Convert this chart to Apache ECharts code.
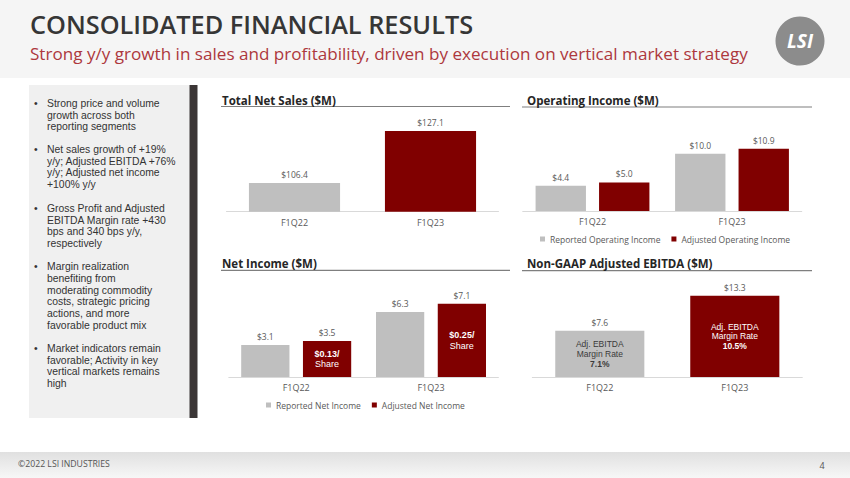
<!DOCTYPE html>
<html>
<head>
<meta charset="utf-8">
<script src="https://cdn.jsdelivr.net/npm/echarts@6/dist/echarts.min.js"></script>
<style>
html,body{margin:0;padding:0;background:#fff;}
#c{width:850px;height:478px;}
</style>
</head>
<body>
<div id="c"></div>
<script>
// ---- data ----
const categories = ['F1Q22', 'F1Q23'];
const netSales = [106.4, 127.1];
const opReported = [4.4, 10.0];
const opAdjusted = [5.0, 10.9];
const niReported = [3.1, 6.3];
const niAdjusted = [3.5, 7.1];
const niPerShare = ['$0.13/', '$0.25/'];
const ebitda = [7.6, 13.3];
const ebitdaMargin = ['7.1%', '10.5%'];
const slideTitle = 'CONSOLIDATED FINANCIAL RESULTS';
const slideSubtitle = 'Strong y/y growth in sales and profitability, driven by execution on vertical market strategy';
const chartTitles = ['Total Net Sales ($M)', 'Operating Income ($M)', 'Net Income ($M)', 'Non-GAAP Adjusted EBITDA ($M)'];
const bullets = [
  ['Strong price and volume', 'growth across both', 'reporting segments'],
  ['Net sales growth of +19%', 'y/y; Adjusted EBITDA +76%', 'y/y; Adjusted net income', '+100% y/y'],
  ['Gross Profit and Adjusted', 'EBITDA Margin rate +430', 'bps and 340 bps y/y,', 'respectively'],
  ['Margin realization', 'benefiting from', 'moderating commodity', 'costs, strategic pricing', 'actions, and more', 'favorable product mix'],
  ['Market indicators remain', 'favorable; Activity in key', 'vertical markets remains', 'high']
];
const footerText = '©2022 LSI INDUSTRIES';
const pageNumber = '4';

// ---- style ----
const FONT = '"Open Sans", "Noto Sans", sans-serif';
const TIGHT = '"Liberation Sans", Arial, sans-serif';
const GRAY = '#bfbfbf';
const RED = '#800000';
const TXT = '#595959';
const bulletTops = [97.5, 143.5, 202.5, 261, 342.5];

const chart = echarts.init(document.getElementById('c'), null, {renderer: 'svg'});

const graphics = [
  {type: 'rect', z: -10, shape: {x: 0, y: 0, width: 850, height: 78}, style: {fill: '#f5f5f5'}},
  {type: 'text', x: 30, y: 24, style: {text: slideTitle, font: '600 25.3px ' + FONT, fill: '#363636', textVerticalAlign: 'middle', verticalAlign: 'middle'}},
  {type: 'text', x: 30, y: 53.5, style: {text: slideSubtitle, font: '400 17.1px ' + FONT, fill: '#ad383d', textVerticalAlign: 'middle', verticalAlign: 'middle'}},
  {type: 'circle', shape: {cx: 800, cy: 41, r: 24.5}, style: {fill: '#8c8c8c'}},
  {type: 'text', x: 800, y: 41, style: {text: 'LSI', font: 'italic 700 19px ' + FONT, fill: '#ffffff', textAlign: 'center', align: 'center', textVerticalAlign: 'middle', verticalAlign: 'middle'}},
  {type: 'rect', z: -10, shape: {x: 29, y: 85, width: 161, height: 333}, style: {fill: '#f0f0f0'}},
  {type: 'rect', z: -10, shape: {x: 189.5, y: 85, width: 8, height: 333}, style: {fill: '#3b3636'}},
  {type: 'rect', z: -10, shape: {x: 0, y: 452, width: 850, height: 26}, style: {fill: new echarts.graphic.LinearGradient(0, 0, 0, 1, [{offset: 0, color: '#e0e0e0'}, {offset: 1, color: '#f7f7f7'}])}},
  {type: 'text', x: 18, y: 464, style: {text: footerText, font: '400 8.7px ' + FONT, fill: '#555555', textVerticalAlign: 'middle', verticalAlign: 'middle'}},
  {type: 'text', x: 822, y: 465, style: {text: pageNumber, font: '400 9px ' + FONT, fill: '#555555', textAlign: 'center', align: 'center', textVerticalAlign: 'middle', verticalAlign: 'middle'}},
  // chart title underlines
  {type: 'line', shape: {x1: 221, y1: 106.5, x2: 510, y2: 106.5}, style: {stroke: '#7f7f7f', lineWidth: 1.2}},
  {type: 'line', shape: {x1: 522, y1: 107, x2: 812, y2: 107}, style: {stroke: '#7f7f7f', lineWidth: 1.2}},
  {type: 'line', shape: {x1: 221, y1: 270.3, x2: 510, y2: 270.3}, style: {stroke: '#7f7f7f', lineWidth: 1.2}},
  {type: 'line', shape: {x1: 522, y1: 270.7, x2: 812, y2: 270.7}, style: {stroke: '#7f7f7f', lineWidth: 1.2}}
];
bullets.forEach((lines, i) => {
  graphics.push({type: 'text', x: 34, y: bulletTops[i], style: {text: '•', font: '400 10.4px ' + TIGHT, fill: '#333333', lineHeight: 11.7, textVerticalAlign: 'top', verticalAlign: 'top'}});
  graphics.push({type: 'text', x: 47, y: bulletTops[i], style: {text: lines.join('\n'), font: '400 10.4px ' + TIGHT, fill: '#333333', lineHeight: 11.7, textVerticalAlign: 'top', verticalAlign: 'top'}});
});

const titlePos = [[222, 93], [527, 93], [222, 256.5], [527, 256.5]];
const titles = chartTitles.map((t, i) => ({
  text: t, left: titlePos[i][0], top: titlePos[i][1], padding: 0,
  textStyle: {fontFamily: FONT, fontSize: 11.5, fontWeight: 'bold', color: '#262626', lineHeight: 14}
}));

const grids = [
  {left: 226.5, top: 111.2, width: 272, height: 100.5},
  {left: 522.75, top: 131, width: 279, height: 80},
  {left: 228.8, top: 284.3, width: 269.6, height: 92.7},
  {left: 532.3, top: 279.4, width: 270, height: 97.6}
];

function catAxis(g, visible) {
  return {
    type: 'category', gridIndex: g, data: categories, show: visible,
    axisLine: {lineStyle: {color: '#d9d9d9', width: 1}},
    axisTick: {show: false},
    axisLabel: {color: TXT, fontSize: 9, fontFamily: FONT, margin: 6}
  };
}
const xAxes = [catAxis(0, true), catAxis(1, true), catAxis(2, true), catAxis(3, true), catAxis(2, false), catAxis(3, false)];
const yRanges = [[95, 135], [0, 14], [0, 9], [0, 16]];
const yAxes = yRanges.map((r, i) => ({type: 'value', gridIndex: i, min: r[0], max: r[1], show: false}));

const valueLabel = {
  show: true, position: 'top', distance: 4, color: TXT, fontSize: 8.5, fontFamily: FONT,
  formatter: p => '$' + Number(p.value).toFixed(1)
};
const clear = {color: 'rgba(0,0,0,0)'};

const series = [
  {name: 'Total Net Sales', type: 'bar', xAxisIndex: 0, yAxisIndex: 0, barCategoryGap: '33%',
    data: netSales.map((v, i) => ({value: v, itemStyle: {color: i === 0 ? GRAY : RED}})), label: valueLabel},
  {name: 'Reported Operating Income', type: 'bar', xAxisIndex: 1, yAxisIndex: 1, barGap: '26%', barCategoryGap: '18.4%',
    data: opReported, itemStyle: {color: GRAY}, label: valueLabel},
  {name: 'Adjusted Operating Income', type: 'bar', xAxisIndex: 1, yAxisIndex: 1, barGap: '26%', barCategoryGap: '18.4%',
    data: opAdjusted, itemStyle: {color: RED}, label: valueLabel},
  {name: 'Reported Net Income', type: 'bar', xAxisIndex: 2, yAxisIndex: 2, barGap: '28%', barCategoryGap: '18.4%',
    data: niReported, itemStyle: {color: GRAY}, label: valueLabel},
  {name: 'Adjusted Net Income', type: 'bar', xAxisIndex: 2, yAxisIndex: 2, barGap: '28%', barCategoryGap: '18.4%',
    data: niAdjusted, itemStyle: {color: RED}, label: valueLabel},
  // overlay for per-share labels inside adjusted net income bars
  {name: 'ni-slot', type: 'bar', xAxisIndex: 4, yAxisIndex: 2, barGap: '28%', barCategoryGap: '18.4%', silent: true,
    data: categories.map(() => '-'), itemStyle: clear},
  {name: 'ni-per-share', type: 'bar', xAxisIndex: 4, yAxisIndex: 2, barGap: '28%', barCategoryGap: '18.4%', silent: true,
    data: niAdjusted, itemStyle: clear,
    label: {show: true, position: 'inside', fontFamily: TIGHT,
      formatter: p => '{b|' + niPerShare[p.dataIndex] + '}\n{n|Share}',
      rich: {b: {fontSize: 9, fontWeight: 'bold', color: '#ffffff', lineHeight: 10.5, fontFamily: TIGHT},
             n: {fontSize: 9, color: '#ffffff', lineHeight: 10.5, fontFamily: TIGHT}}}},
  {name: 'Adjusted EBITDA', type: 'bar', xAxisIndex: 3, yAxisIndex: 3, barCategoryGap: '34%',
    data: ebitda.map((v, i) => ({value: v, itemStyle: {color: i === 0 ? GRAY : RED}})), label: valueLabel},
  {name: 'ebitda-margin', type: 'bar', xAxisIndex: 5, yAxisIndex: 3, barCategoryGap: '34%', silent: true,
    data: ebitda.map((v, i) => ({value: v, label: {color: i === 0 ? '#3a3a3a' : '#ffffff'}})), itemStyle: clear,
    label: {show: true, position: 'inside', fontFamily: TIGHT,
      formatter: p => '{t|Adj. EBITDA}\n{t|Margin Rate}\n{b|' + ebitdaMargin[p.dataIndex] + '}',
      rich: {t: {fontSize: 8.5, lineHeight: 9.8, fontFamily: TIGHT},
             b: {fontSize: 8.5, fontWeight: 'bold', lineHeight: 9.8, fontFamily: TIGHT}}}}
];

const legendBase = {icon: 'rect', itemWidth: 5, itemHeight: 5, itemGap: 11, padding: 0, selectedMode: false,
  textStyle: {fontSize: 8.5, color: TXT, fontFamily: FONT}};

chart.setOption({
  animation: false,
  textStyle: {fontFamily: FONT},
  title: titles,
  graphic: graphics,
  grid: grids,
  xAxis: xAxes,
  yAxis: yAxes,
  legend: [
    Object.assign({}, legendBase, {data: ['Reported Operating Income', 'Adjusted Operating Income'], left: 540, top: 234.5}),
    Object.assign({}, legendBase, {data: ['Reported Net Income', 'Adjusted Net Income'], left: 266, top: 400.5})
  ],
  series: series
});
</script>
</body>
</html>
